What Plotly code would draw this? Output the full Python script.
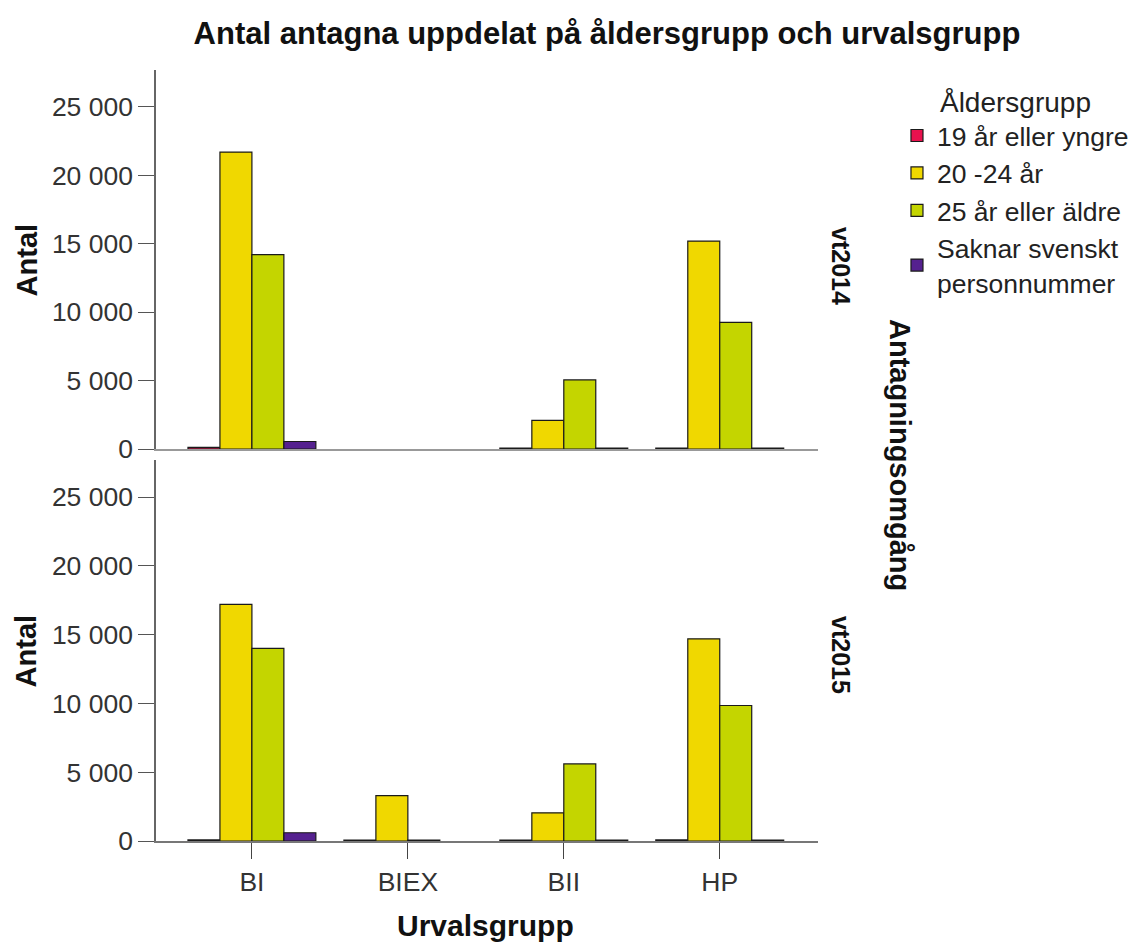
import plotly.graph_objects as go

categories = ["BI", "BIEX", "BII", "HP"]
series_names = ["19 år eller yngre", "20 -24 år", "25 år eller äldre", "Saknar svenskt<br>personnummer"]
colors = ["#E8124E", "#F0D800", "#C4D500", "#55218F"]

# vt2014 (top panel)
vt2014_19 = [120, None, 60, 60]
vt2014_20_24 = [21700, None, 2100, 15200]
vt2014_25 = [14200, None, 5050, 9250]
vt2014_saknar = [550, None, 60, 60]

# vt2015 (bottom panel)
vt2015_19 = [80, 60, 60, 80]
vt2015_20_24 = [17200, 3300, 2050, 14700]
vt2015_25 = [14000, 60, 5600, 9850]
vt2015_saknar = [600, None, 60, 60]

panels = {
    "vt2014": [vt2014_19, vt2014_20_24, vt2014_25, vt2014_saknar],
    "vt2015": [vt2015_19, vt2015_20_24, vt2015_25, vt2015_saknar],
}

FONT = "Liberation Sans, Arial, sans-serif"
fig = go.Figure()

for i, (name, color) in enumerate(zip(series_names, colors)):
    fig.add_trace(go.Bar(
        x=categories, y=panels["vt2014"][i], name=name, legendgroup=name,
        marker=dict(color=color, line=dict(color="#1a1a1a", width=1.2)),
        xaxis="x2", yaxis="y2", showlegend=True,
    ))
for i, (name, color) in enumerate(zip(series_names, colors)):
    fig.add_trace(go.Bar(
        x=categories, y=panels["vt2015"][i], name=name, legendgroup=name,
        marker=dict(color=color, line=dict(color="#1a1a1a", width=1.2)),
        xaxis="x", yaxis="y", showlegend=False,
    ))

yr = [0, 27700]
xr = [-0.615, 3.63]
tickfont = dict(family=FONT, size=26.5, color="#333333")
yax_common = dict(range=yr, tickvals=[0, 5000, 10000, 15000, 20000, 25000],
                  tickformat=",d", ticks="outside", ticklen=16, tickcolor="#555555",
                  showline=True, linecolor="#666666", linewidth=1.5,
                  showgrid=False, zeroline=False, tickfont=tickfont, fixedrange=True)

# page body adds an 8px offset; margins compensate
fig.update_layout(
    width=1138, height=944,
    margin=dict(l=148, r=328, t=62, b=111),
    plot_bgcolor="white", paper_bgcolor="white",
    separators=", ",
    barmode="group", bargap=0.18, bargroupgap=0,
    font=dict(family=FONT, color="#111111"),
    title=dict(text="<b>Antal antagna uppdelat på åldersgrupp och urvalsgrupp</b>",
               x=599 / 1138, xanchor="center", y=1 - 25 / 944, yanchor="middle",
               font=dict(family=FONT, size=31, color="#111111")),
    xaxis=dict(domain=[0, 1], range=xr, anchor="y", showline=True, linecolor="#777777",
               linewidth=1.5, ticks="outside", ticklen=16, tickcolor="#444444",
               tickfont=tickfont, showgrid=False, zeroline=False),
    xaxis2=dict(domain=[0, 1], range=xr, anchor="y2", matches="x", showline=True,
                linecolor="#999999", linewidth=1.5, ticks="", showticklabels=False,
                showgrid=False, zeroline=False),
    yaxis=dict(domain=[0, 0.4942], anchor="x", **yax_common),
    yaxis2=dict(domain=[0.5084, 1], anchor="x2", **yax_common),
    legend=dict(x=1.1193, xanchor="left", y=0.993, yanchor="top",
                title=dict(text="Åldersgrupp", side="top center",
                           font=dict(family=FONT, size=28, color="#222222")),
                font=dict(family=FONT, size=26.5, color="#222222"),
                tracegroupgap=0, itemwidth=30, bgcolor="rgba(0,0,0,0)"),
    showlegend=True,
)

annos = [
    dict(text="<b>Antal</b>", x=-0.195, y=(0.5084 + 1) / 2, textangle=-90, size=29),
    dict(text="<b>Antal</b>", x=-0.195, y=0.4942 / 2, textangle=-90, size=29),
    dict(text="<b>vt2014</b>", x=(841 - 156) / 662, y=(841 - 266) / 771, textangle=90, size=25),
    dict(text="<b>vt2015</b>", x=(841 - 156) / 662, y=(841 - 655) / 771, textangle=90, size=25),
    dict(text="<b>Antagningsomgång</b>", x=(900 - 156) / 662, y=(841 - 455) / 771, textangle=90, size=29),
    dict(text="<b>Urvalsgrupp</b>", x=(485 - 156) / 662, y=(841 - 925) / 771, textangle=0, size=30),
]
for a in annos:
    fig.add_annotation(text=a["text"], x=a["x"], y=a["y"], xref="paper", yref="paper",
                       xanchor="center", yanchor="middle", showarrow=False,
                       textangle=a["textangle"],
                       font=dict(family=FONT, size=a["size"], color="#111111"))

fig.write_html("out.html")
